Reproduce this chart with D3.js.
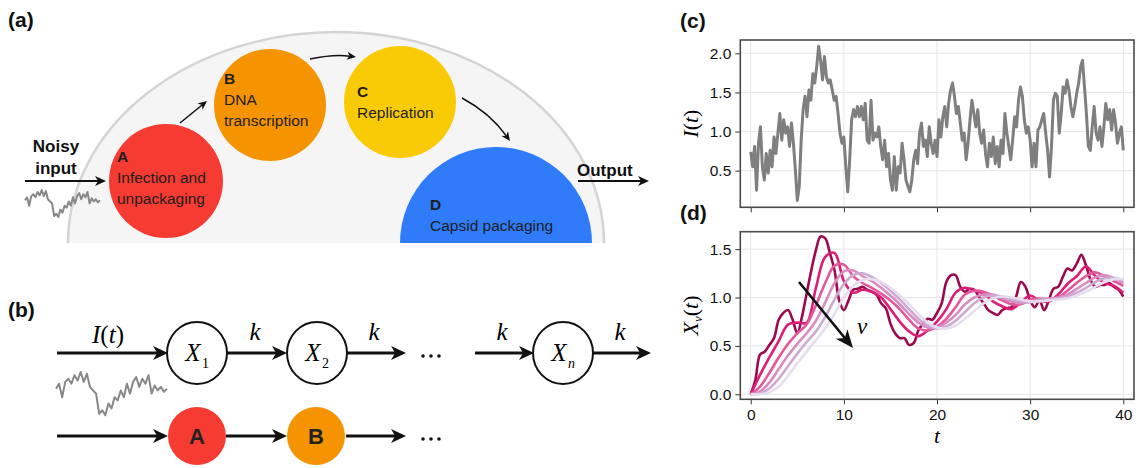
<!DOCTYPE html>
<html>
<head>
<meta charset="utf-8">
<script src="https://cdn.jsdelivr.net/npm/d3@7"></script>
<style>
  body { margin: 0; background: #fff; }
  text { font-family: "Liberation Sans", Arial, sans-serif; }
  .math { font-family: "Liberation Serif", "DejaVu Serif", serif; }
</style>
</head>
<body>
<div id="fig"></div>
<script>
// ---- data ----
// (c) noisy input I(t), sampled evenly over t = 0..40
const inputSignal = [
  0.74,0.55,0.81,0.25,0.85,1.06,0.55,0.38,0.72,0.47,
  0.76,0.55,0.93,0.72,0.98,1.23,0.89,1.15,0.98,1.06,
  0.81,1.11,0.85,0.51,0.12,0.30,0.89,1.28,1.45,1.19,
  1.53,1.40,1.74,1.62,1.83,2.09,1.91,1.66,1.96,1.70,
  1.62,1.66,1.53,1.40,1.45,1.23,0.98,0.85,0.93,0.55,
  0.23,0.64,1.15,1.28,1.19,1.32,1.19,1.32,1.15,1.36,
  0.89,0.85,1.40,0.89,0.98,0.93,1.06,0.81,0.64,0.89,
  0.55,0.72,0.38,0.25,0.68,0.25,0.55,0.47,0.85,0.64,
  0.38,0.30,0.23,0.38,0.64,0.76,0.59,0.98,1.11,0.81,
  0.89,0.68,1.06,0.85,0.72,0.89,0.68,1.15,0.93,1.19,
  1.32,1.06,1.36,1.53,1.62,1.45,1.23,1.32,1.11,0.89,
  0.98,0.64,0.85,1.15,1.40,1.23,1.06,1.28,0.98,0.85,
  1.02,0.72,0.55,0.85,0.68,0.93,0.59,0.81,0.55,0.89,
  0.72,1.23,0.98,0.81,0.64,0.89,1.19,1.06,1.40,1.57,
  1.45,1.15,0.98,1.06,0.89,0.55,0.85,0.55,1.02,1.06,
  1.15,1.23,0.98,0.76,0.42,0.81,1.40,1.49,1.45,0.98,
  1.23,1.57,1.49,1.66,1.53,1.32,1.19,1.32,1.49,1.62,
  1.83,1.91,1.57,1.23,0.81,0.76,1.06,1.32,0.98,0.89,
  1.06,0.81,1.06,1.36,1.15,1.28,1.02,1.28,1.11,0.85,
  0.98,1.06,0.76
];

// (d) X_nu(t): first stage every 0.5 in t, later stages every 1.0
const stage1 = [
  0,0.15,0.41,0.44,0.51,0.58,0.77,0.84,0.87,0.77,
  0.63,0.80,1.04,1.28,1.49,1.63,1.61,1.46,1.28,0.97,
  0.87,0.97,1.08,1.09,1.11,1.08,1.06,1.03,0.94,0.89,
  0.73,0.63,0.58,0.58,0.51,0.53,0.66,0.73,0.78,0.77,
  0.84,0.94,1.16,1.23,1.23,1.11,1.06,1.09,1.08,1.01,
  0.94,0.87,0.84,0.82,0.87,0.89,0.90,1.01,1.16,1.11,
  0.97,0.90,0.97,0.87,0.97,1.09,1.11,1.21,1.30,1.28,
  1.35,1.44,1.33,1.18,1.11,1.13,1.13,1.15,1.11,1.08,
  1.01
];
const stage2 = [0,0.20,0.38,0.55,0.72,0.74,0.74,1.10,1.42,1.46,1.17,1.05,1.08,1.06,1.00,0.88,0.75,0.65,0.60,0.66,
  0.75,0.88,1.05,1.10,1.07,1.04,0.96,0.91,0.88,0.95,1.02,0.97,0.96,1.03,1.14,1.22,1.32,1.22,1.15,1.12,1.05];
const stage3 = [0,0.08,0.22,0.38,0.52,0.63,0.72,0.92,1.15,1.33,1.34,1.22,1.15,1.10,1.04,0.97,0.88,0.77,0.68,0.66,
  0.70,0.78,0.90,1.03,1.07,1.06,1.02,0.97,0.93,0.93,0.98,0.99,0.98,1.00,1.07,1.15,1.22,1.26,1.22,1.17,1.12];
const stage4 = [0,0.03,0.12,0.26,0.40,0.52,0.63,0.76,0.95,1.15,1.27,1.28,1.22,1.17,1.10,1.02,0.93,0.83,0.74,0.69,
  0.69,0.74,0.82,0.93,1.00,1.03,1.03,0.99,0.96,0.94,0.96,0.98,0.99,1.00,1.03,1.09,1.15,1.21,1.23,1.20,1.15];
const stage5 = [0,0.01,0.06,0.16,0.29,0.42,0.54,0.65,0.80,0.98,1.14,1.23,1.25,1.21,1.15,1.07,0.98,0.88,0.78,0.71,
  0.68,0.70,0.76,0.85,0.94,1.00,1.02,1.01,0.98,0.96,0.95,0.97,0.98,0.99,1.01,1.05,1.10,1.16,1.20,1.20,1.18];
const stage6 = [0,0,0.02,0.08,0.19,0.32,0.44,0.56,0.68,0.83,1.00,1.12,1.18,1.19,1.16,1.10,1.02,0.93,0.83,0.74,
  0.69,0.68,0.71,0.78,0.86,0.94,0.99,1.01,1.00,0.98,0.96,0.96,0.97,0.98,0.99,1.02,1.06,1.11,1.16,1.19,1.19];
const stageColors = ['#9b0a4e', '#dc1c77', '#e4579c', '#d98cc0', '#cdaad3', '#e6ddee'];

// small noisy sketch used in panels (a) and (b)
const sketchTrace = [0.63,0.74,0.44,0.78,0.85,0.74,0.93,0.81,1.0,0.78,0.96,0.67,0.59,0.52,0.07,0.15,0.04,0.30,0.19,
  0.44,0.37,0.59,0.44,0.74,0.52,0.78,0.89,0.67,0.85,0.74,0.93,0.52,0.70,0.59,0.67,0.56,0.63];

const yTicksC = [0.5, 1.0, 1.5, 2.0];
const yTicksD = [0.0, 0.5, 1.0, 1.5];
const xTicks = [0, 10, 20, 30, 40];

// ---- svg ----
const W = 1136, H = 468;
const svg = d3.select('#fig').append('svg')
  .attr('width', W).attr('height', H)
  .style('display', 'block');
svg.append('rect').attr('width', W).attr('height', H).attr('fill', '#fff');

// arrow with a stealth head; c is an optional control point for a curve
function arrow(g, p0, p1, w, hl, hw, c){
  let from = c || p0;
  let dx = p1[0] - from[0], dy = p1[1] - from[1];
  let len = Math.hypot(dx, dy);
  dx /= len; dy /= len;
  let px = -dy, py = dx;
  let end = [p1[0] - dx*hl*0.7, p1[1] - dy*hl*0.7];
  let path = d3.path();
  path.moveTo(p0[0], p0[1]);
  if(c) path.quadraticCurveTo(c[0], c[1], end[0], end[1]);
  else path.lineTo(end[0], end[1]);
  g.append('path').attr('d', path.toString())
    .attr('fill', 'none').attr('stroke', '#111').attr('stroke-width', w);
  let bx = p1[0] - dx*hl, by = p1[1] - dy*hl;
  let head = [
    [p1[0], p1[1]],
    [bx + px*hw/2, by + py*hw/2],
    [p1[0] - dx*hl*0.72, p1[1] - dy*hl*0.72],
    [bx - px*hw/2, by - py*hw/2]
  ];
  g.append('path').attr('d', 'M' + head.join('L') + 'Z').attr('fill', '#111');
}

function panelLabel(x, y, s){
  svg.append('text').attr('x', x).attr('y', y).attr('font-size', 21)
    .attr('font-weight', 'bold').attr('fill', '#111').text(s);
}

function sketch(x0, x1, y0, y1){
  let sx = d3.scaleLinear().domain([0, sketchTrace.length - 1]).range([x0, x1]);
  let sy = d3.scaleLinear().domain([0, 1]).range([y1, y0]);
  svg.append('path')
    .attr('d', d3.line().x((d, i) => sx(i)).y(d => sy(d))(sketchTrace))
    .attr('fill', 'none').attr('stroke', '#888').attr('stroke-width', 2)
    .attr('stroke-linejoin', 'round');
}

// ================= (a) =================
panelLabel(8, 27, '(a)');
const ga = svg.append('g');
const cx0 = 336, cy0 = 243, rx0 = 268, ry0 = 211;
ga.append('path')
  .attr('d', `M${cx0-rx0},${cy0} A${rx0},${ry0} 0 0 1 ${cx0+rx0},${cy0} Z`)
  .attr('fill', '#f5f5f5');
ga.append('path')
  .attr('d', `M${cx0-rx0},${cy0} A${rx0},${ry0} 0 0 1 ${cx0+rx0},${cy0}`)
  .attr('fill', 'none').attr('stroke', '#d4d4d4').attr('stroke-width', 2.5);

svg.append('clipPath').attr('id', 'cut').append('rect')
  .attr('x', 0).attr('y', 0).attr('width', W).attr('height', 243);

const bubbles = [
  {id: 'A', cx: 166, cy: 181, r: 57, fill: '#f53b32', lines: ['Infection and', 'unpackaging'], tx: 117, ty: 162},
  {id: 'B', cx: 270, cy: 105, r: 56, fill: '#f59400', lines: ['DNA', 'transcription'], tx: 224, ty: 84},
  {id: 'C', cx: 400, cy: 102, r: 56, fill: '#f8cb06', lines: ['Replication'], tx: 357, ty: 97},
  {id: 'D', cx: 496, cy: 243, r: 96, fill: '#2f7bfa', lines: ['Capsid packaging'], tx: 430, ty: 210}
];
bubbles.forEach(b => {
  ga.append('circle').attr('cx', b.cx).attr('cy', b.cy).attr('r', b.r)
    .attr('fill', b.fill).attr('clip-path', 'url(#cut)');
  ga.append('text').attr('x', b.tx).attr('y', b.ty).attr('font-size', 15.5)
    .attr('font-weight', 'bold').attr('fill', '#1e1e1e').text(b.id);
  b.lines.forEach((l, i) => {
    ga.append('text').attr('x', b.tx).attr('y', b.ty + 21*(i + 1)).attr('font-size', 15.5)
      .attr('fill', '#1e1e1e').text(l);
  });
});

arrow(ga, [180, 123], [207, 101], 1.5, 9, 8);
arrow(ga, [310, 59], [356, 57], 1.5, 9, 8, [334, 54]);
arrow(ga, [462, 98], [510, 141], 1.5, 9, 8, [490, 113]);

ga.append('text').attr('x', 56).attr('y', 152).attr('text-anchor', 'middle')
  .attr('font-size', 17).attr('font-weight', 'bold').attr('fill', '#111').text('Noisy');
ga.append('text').attr('x', 56).attr('y', 174).attr('text-anchor', 'middle')
  .attr('font-size', 17).attr('font-weight', 'bold').attr('fill', '#111').text('input');
arrow(ga, [25, 181], [106, 181], 2, 11, 10);
sketch(25, 100, 190, 218);

ga.append('text').attr('x', 577).attr('y', 176)
  .attr('font-size', 17).attr('font-weight', 'bold').attr('fill', '#111').text('Output');
arrow(ga, [578, 181], [649, 181], 2, 11, 10);

// ================= (b) =================
panelLabel(8, 317, '(b)');
const gb = svg.append('g');
const row1 = 353, row2 = 436;

[[57, 168], [227, 287], [347, 406], [475, 534], [593, 651]].forEach(a => {
  arrow(gb, [a[0], row1], [a[1], row1], 3, 15, 14);
});
[[57, 168], [226, 287], [346, 406]].forEach(a => {
  arrow(gb, [a[0], row2], [a[1], row2], 3, 15, 14);
});

gb.append('text').attr('class', 'math').attr('x', 108).attr('y', 343)
  .attr('text-anchor', 'middle').attr('font-size', 25)
  .call(t => {
    t.append('tspan').attr('font-style', 'italic').text('I');
    t.append('tspan').text('(');
    t.append('tspan').attr('font-style', 'italic').text('t');
    t.append('tspan').text(')');
  });
[255, 374, 502, 620].forEach(x => {
  gb.append('text').attr('class', 'math').attr('x', x).attr('y', 340)
    .attr('text-anchor', 'middle').attr('font-size', 25).attr('font-style', 'italic').text('k');
});

[{cx: 197, sub: '1', it: false}, {cx: 317, sub: '2', it: false}, {cx: 563, sub: 'n', it: true}].forEach(n => {
  gb.append('ellipse').attr('cx', n.cx).attr('cy', row1).attr('rx', 30).attr('ry', 31)
    .attr('fill', '#fff').attr('stroke', '#111').attr('stroke-width', 2);
  gb.append('text').attr('class', 'math').attr('x', n.cx - 4).attr('y', row1 + 8)
    .attr('text-anchor', 'middle').attr('font-size', 25).attr('font-style', 'italic').text('X');
  gb.append('text').attr('class', 'math').attr('x', n.cx + 5).attr('y', row1 + 15)
    .attr('font-size', 14).attr('font-style', n.it ? 'italic' : 'normal').text(n.sub);
});

[[row1 + 3], [row2 + 3]].forEach(r => {
  [423, 431, 439].forEach(x => {
    gb.append('circle').attr('cx', x).attr('cy', r[0]).attr('r', 1.8).attr('fill', '#111');
  });
});

[{cx: 197, id: 'A', fill: '#f53b32'}, {cx: 316, id: 'B', fill: '#f59400'}].forEach(n => {
  gb.append('ellipse').attr('cx', n.cx).attr('cy', row2).attr('rx', 29).attr('ry', 29).attr('fill', n.fill);
  gb.append('text').attr('x', n.cx).attr('y', row2 + 8).attr('text-anchor', 'middle')
    .attr('font-size', 22).attr('font-weight', 'bold').attr('fill', '#222').text(n.id);
});
sketch(56, 167, 372, 417);

// ================= (c) & (d) =================
const x = d3.scaleLinear().domain([-1.12, 41.15]).range([740.3, 1134]);

function frame(g, y, yTicks, top, bottom, showX){
  g.append('g').selectAll('line.gx').data(xTicks).join('line')
    .attr('x1', d => x(d)).attr('x2', d => x(d)).attr('y1', top).attr('y2', bottom)
    .attr('stroke', '#e6e6e6').attr('stroke-width', 1);
  g.append('g').selectAll('line.gy').data(yTicks).join('line')
    .attr('x1', x.range()[0]).attr('x2', x.range()[1]).attr('y1', d => y(d)).attr('y2', d => y(d))
    .attr('stroke', '#e6e6e6').attr('stroke-width', 1);

  const ax = g.append('g').attr('transform', `translate(0,${bottom})`)
    .call(d3.axisBottom(x).tickValues(xTicks).tickSize(5).tickPadding(5)
      .tickFormat(showX ? d3.format('d') : ''));
  const ay = g.append('g').attr('transform', `translate(${x.range()[0]},0)`)
    .call(d3.axisLeft(y).tickValues(yTicks).tickSize(5).tickPadding(4).tickFormat(d3.format('.1f')));
  [ax, ay].forEach(a => {
    a.select('.domain').remove();
    a.selectAll('line').attr('stroke', '#333').attr('stroke-width', 1);
    a.selectAll('text').attr('font-size', 15.5).attr('fill', '#111')
      .style('font-family', '"Liberation Sans", Arial, sans-serif');
  });
}

function frameBox(g, top, bottom){
  g.append('rect').attr('x', x.range()[0]).attr('y', top)
    .attr('width', x.range()[1] - x.range()[0]).attr('height', bottom - top)
    .attr('fill', 'none').attr('stroke', '#4a4a4a').attr('stroke-width', 1.6);
}

// (c)
panelLabel(680, 28, '(c)');
const gc = svg.append('g');
const topC = 40, botC = 207.3;
const yC = d3.scaleLinear().domain([0.032, 2.17]).range([botC, topC]);
frame(gc, yC, yTicksC, topC, botC, false);
const tIn = d3.scaleLinear().domain([0, inputSignal.length - 1]).range([0, 40]);
gc.append('path')
  .attr('d', d3.line().x((d, i) => x(tIn(i))).y(d => yC(d))(inputSignal))
  .attr('fill', 'none').attr('stroke', '#7f7f7f').attr('stroke-width', 3)
  .attr('stroke-linejoin', 'round');
frameBox(gc, topC, botC);
gc.append('text').attr('class', 'math')
  .attr('transform', `translate(698,${(topC + botC)/2}) rotate(-90)`)
  .attr('text-anchor', 'middle').attr('font-size', 22)
  .call(t => {
    t.append('tspan').attr('font-style', 'italic').text('I');
    t.append('tspan').text('(');
    t.append('tspan').attr('font-style', 'italic').text('t');
    t.append('tspan').text(')');
  });

// (d)
panelLabel(680, 220, '(d)');
const gd = svg.append('g');
const topD = 231.7, botD = 399.3;
const yD = d3.scaleLinear().domain([-0.052, 1.68]).range([botD, topD]);
frame(gd, yD, yTicksD, topD, botD, true);

const stages = [stage1, stage2, stage3, stage4, stage5, stage6];
stages.forEach((s, k) => {
  const step = 40 / (s.length - 1);
  gd.append('path')
    .attr('d', d3.line().curve(d3.curveCatmullRom.alpha(0.5))
      .x((d, i) => x(i*step)).y(d => yD(d))(s))
    .attr('fill', 'none').attr('stroke', stageColors[k]).attr('stroke-width', 2.6)
    .attr('stroke-linejoin', 'round');
});
frameBox(gd, topD, botD);

arrow(gd, [799, 282], [853, 348], 2.6, 18, 15);
gd.append('text').attr('class', 'math').attr('x', 857).attr('y', 334)
  .attr('font-size', 23).attr('font-style', 'italic').text('ν');

gd.append('text').attr('class', 'math')
  .attr('transform', `translate(698,${(topD + botD)/2}) rotate(-90)`)
  .attr('text-anchor', 'middle').attr('font-size', 22)
  .call(t => {
    t.append('tspan').attr('font-style', 'italic').text('X');
    t.append('tspan').attr('font-style', 'italic').attr('font-size', 13).attr('dy', 4).text('ν');
    t.append('tspan').attr('dy', -4).text('(');
    t.append('tspan').attr('font-style', 'italic').text('t');
    t.append('tspan').text(')');
  });
gd.append('text').attr('class', 'math').attr('x', x(20)).attr('y', 443)
  .attr('text-anchor', 'middle').attr('font-size', 22).attr('font-style', 'italic').text('t');
</script>
</body>
</html>
